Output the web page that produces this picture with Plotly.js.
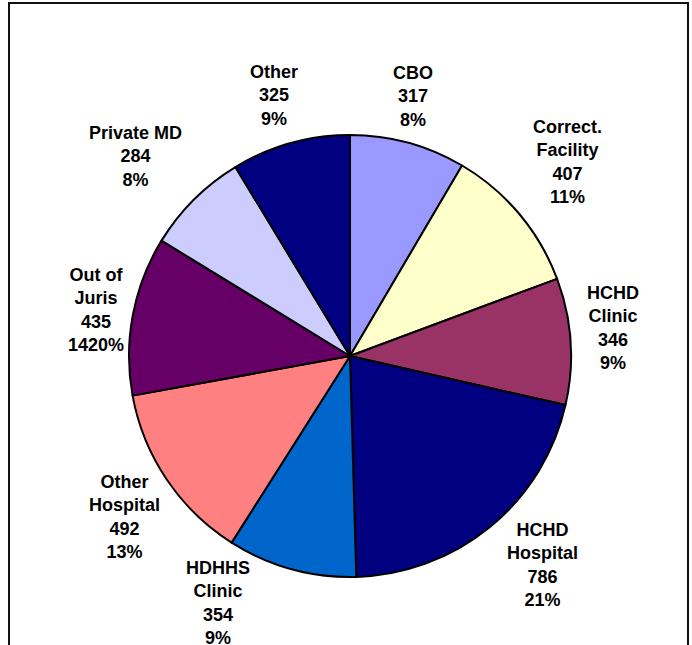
<!DOCTYPE html>
<html>
<head>
<meta charset="utf-8">
<script src="https://cdn.plot.ly/plotly-3.0.1.min.js"></script>
<style>html,body{margin:0;padding:0;background:#fff;}#chart{width:692px;height:645px;}</style>
</head>
<body>
<div id="chart"></div>
<script>
// ---- data ----
const categories = ["CBO", "Correct.<br>Facility", "HCHD<br>Clinic", "HCHD<br>Hospital", "HDHHS<br>Clinic", "Other<br>Hospital", "Out of<br>Juris", "Private MD", "Other"];
const values = [317, 407, 346, 786, 354, 492, 435, 284, 325];
const percentLabels = ["8%", "11%", "9%", "21%", "9%", "13%", "1420%", "8%", "9%"];
const colors = ["#9999FF", "#FFFFCC", "#993366", "#000080", "#0066CC", "#FF8080", "#660066", "#CCCCFF", "#000080"];

// ---- label layout (style only) ----
const labelDist = [270, 293, 265, 282, 277, 275, 259, 295, 274];
const labelAngleNudge = [-1.7, -2.2, -2.9, -3.7, 13, -1.1, 0.3, -1.9, -0.4];
const labelShiftY = 3;

const W = 692, H = 645;
const cx = 350, cy = 356, R = 221;

const total = values.reduce((a, b) => a + b, 0);
let cum = 0;
const annotations = [];
values.forEach((v, i) => {
  const mid = (cum + v / 2) / total * 360 + labelAngleNudge[i];
  cum += v;
  const t = mid * Math.PI / 180;
  const px = cx + labelDist[i] * Math.sin(t);
  const py = cy - labelDist[i] * Math.cos(t) + labelShiftY;
  annotations.push({
    x: px / W, y: 1 - py / H, xref: 'paper', yref: 'paper',
    xanchor: 'center', yanchor: 'middle', showarrow: false,
    text: categories[i] + '<br>' + v + '<br>' + percentLabels[i],
    font: {family: 'Liberation Sans, Arial, sans-serif', size: 18, color: '#000', weight: 'bold'},
    align: 'center'
  });
});

const trace = {
  type: 'pie',
  values: values,
  labels: categories,
  sort: false,
  direction: 'clockwise',
  rotation: 0,
  marker: {colors: colors, line: {color: '#000', width: 2}},
  textinfo: 'none',
  hoverinfo: 'none',
  showlegend: false,
  domain: {x: [(cx - R) / W, (cx + R) / W], y: [(H - cy - R) / H, (H - cy + R) / H]}
};

const layout = {
  width: W, height: H,
  margin: {l: 0, r: 0, t: 0, b: 0},
  paper_bgcolor: '#fff',
  showlegend: false,
  annotations: annotations,
  shapes: [{
    type: 'rect', xref: 'paper', yref: 'paper',
    x0: 9 / W, x1: 688 / W, y0: -0.05, y1: 1 - 3 / H,
    line: {color: '#111', width: 2}, fillcolor: 'rgba(0,0,0,0)', layer: 'below'
  }]
};

Plotly.newPlot('chart', [trace], layout, {displayModeBar: false, staticPlot: true});
</script>
</body>
</html>
